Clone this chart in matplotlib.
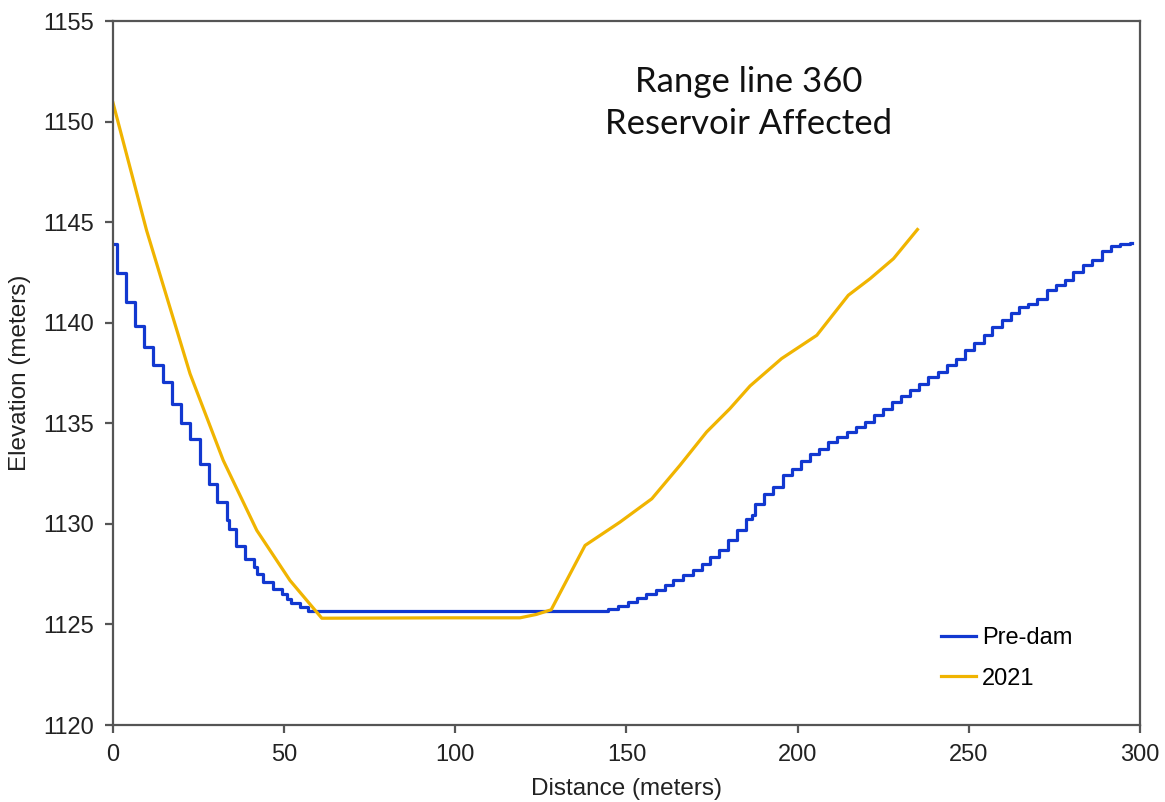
import numpy as np
import matplotlib.pyplot as plt

# Pre-dam survey (stepped profile), distance (m) / elevation (m)
predam_x = [0.3, 1.1, 3.8, 6.4, 9.1, 11.8, 14.5, 17.1, 19.8, 22.5, 25.4, 28.0, 30.5,
            33.2, 33.9, 35.9, 38.6, 41.2, 42.2, 43.9, 46.7, 49.3, 50.7, 51.9, 54.6, 57.1,
            144.6, 147.6, 150.5, 153.0, 155.7, 158.5, 161.3, 163.7, 166.6, 169.4, 172.0,
            174.4, 177.1, 179.8, 182.2, 184.9, 186.6, 187.6, 190.2, 192.9, 195.6, 198.3,
            200.9, 203.6, 206.3, 209.0, 211.6, 214.3, 217.1, 219.7, 222.3, 225.0, 227.5,
            230.1, 232.8, 235.5, 238.2, 240.9, 243.6, 246.3, 248.9, 251.5, 254.3, 256.7,
            259.6, 262.3, 264.8, 267.4, 270.0, 272.8, 275.4, 278.1, 280.5, 283.3, 285.9,
            288.8, 291.5, 294.2, 297.1, 297.6]
predam_y = [1143.9, 1142.48, 1141.03, 1139.84, 1138.8, 1137.89, 1137.05, 1135.98, 1135.02,
            1134.24, 1132.96, 1131.96, 1131.09, 1130.2, 1129.76, 1128.88, 1128.27, 1127.85,
            1127.52, 1127.1, 1126.78, 1126.53, 1126.28, 1126.06, 1125.86, 1125.68,
            1125.78, 1125.94, 1126.11, 1126.33, 1126.49, 1126.69, 1126.94, 1127.19, 1127.44,
            1127.72, 1128.02, 1128.35, 1128.68, 1129.18, 1129.71, 1130.26, 1130.42, 1131.0,
            1131.47, 1131.83, 1132.41, 1132.75, 1133.12, 1133.49, 1133.74, 1134.07, 1134.32,
            1134.57, 1134.82, 1135.07, 1135.40, 1135.73, 1136.06, 1136.34, 1136.64, 1136.97,
            1137.30, 1137.55, 1137.89, 1138.22, 1138.63, 1139.0, 1139.38, 1139.79, 1140.12,
            1140.49, 1140.79, 1140.95, 1141.2, 1141.62, 1141.87, 1142.11, 1142.53, 1142.86,
            1143.11, 1143.57, 1143.81, 1143.91, 1143.99, 1143.99]

# 2021 survey
s2021_x = [0.0, 9.8, 22.5, 32.2, 42.0, 51.7, 61.0, 97.0, 118.9, 123.7, 128.0, 137.9,
           148.1, 157.4, 165.6, 173.4, 180.2, 186.1, 195.3, 205.6, 214.8, 221.2, 228.0, 235.0]
s2021_y = [1150.94, 1144.6, 1137.47, 1133.16, 1129.68, 1127.19, 1125.31, 1125.33, 1125.33,
           1125.5, 1125.73, 1128.93, 1130.09, 1131.25, 1132.91, 1134.57, 1135.73, 1136.86,
           1138.22, 1139.38, 1141.37, 1142.2, 1143.19, 1144.64]

fig = plt.figure(figsize=(11.65, 8.02), dpi=100)
ax = fig.add_axes([0.097, 0.096, 0.8815, 0.8776])

ax.plot(predam_x, predam_y, drawstyle='steps-post', color='#1238d0', lw=2.3, label='Pre-dam')
ax.plot(s2021_x, s2021_y, color='#f0b400', lw=2.3, label='2021')

ax.set_xlim(0, 300)
ax.set_ylim(1120, 1155)
ax.set_xticks(np.arange(0, 301, 50))
ax.set_yticks(np.arange(1120, 1156, 5))

for sp in ax.spines.values():
    sp.set_color('#555555')
    sp.set_linewidth(1.6)
ax.tick_params(direction='out', length=6, width=1.6, color='#555555',
               labelsize=17, labelcolor='#222222', pad=8)
for lab in ax.get_xticklabels() + ax.get_yticklabels():
    lab.set_family('Liberation Sans')

ax.set_xlabel('Distance (meters)', fontsize=17.5, family='Liberation Sans', color='#222222')
ax.set_ylabel('Elevation (meters)', fontsize=17.5, family='Liberation Sans', color='#222222')
ax.xaxis.set_label_coords(0.5, -0.076)
ax.yaxis.set_label_coords(-0.08, 0.5)

ax.text(0.619, 0.937, 'Range line 360\nReservoir Affected', transform=ax.transAxes,
        ha='center', va='top', fontsize=25, family='Lato', linespacing=1.42, color='#111111')

leg = ax.legend(loc='lower right', bbox_to_anchor=(0.955, 0.02), frameon=False,
                prop={'family': 'Liberation Sans', 'size': 17}, handlelength=1.5,
                handletextpad=0.25, labelspacing=0.8)

fig.savefig('out.png', dpi=100)
